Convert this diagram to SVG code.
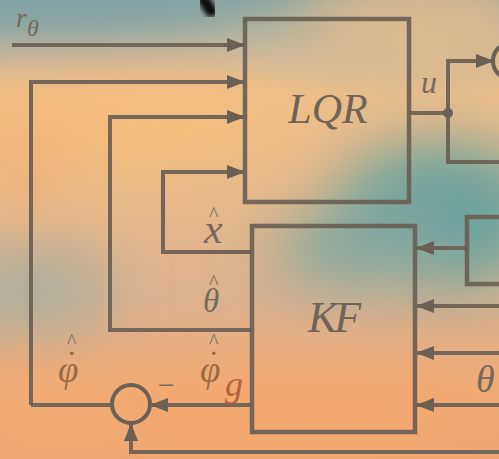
<svg xmlns="http://www.w3.org/2000/svg" width="499" height="459" viewBox="0 0 499 459">
  <defs>
    <linearGradient id="bg" x1="0" y1="0" x2="0" y2="1">
      <stop offset="0" stop-color="#8ea6a2"/>
      <stop offset="0.1" stop-color="#c3b89e"/>
      <stop offset="0.2" stop-color="#eebf88"/>
      <stop offset="0.45" stop-color="#e6b98a"/>
      <stop offset="0.65" stop-color="#dcb28f"/>
      <stop offset="0.85" stop-color="#f0aa74"/>
      <stop offset="1" stop-color="#eda672"/>
    </linearGradient>
    <filter id="blur" x="-50%" y="-50%" width="200%" height="200%">
      <feGaussianBlur stdDeviation="30"/>
    </filter>
    <filter id="blurS" x="-50%" y="-50%" width="200%" height="200%">
      <feGaussianBlur stdDeviation="2"/>
    </filter>
    <marker id="ah" markerUnits="userSpaceOnUse" markerWidth="18" markerHeight="14" refX="17" refY="7" orient="auto">
      <path d="M0,0 L18,7 L0,14 Z" fill="#6a6055"/>
    </marker>
    <style>
      .ln { fill: none; stroke: #6a6055; stroke-width: 4; stroke-opacity: 0.92; }
      .box { fill: none; stroke: #6a6055; stroke-width: 4.5; stroke-opacity: 0.92; }
      .big { font-family: "Liberation Serif", "DejaVu Serif", serif; font-style: italic; fill: #6e6458; }
      .lbl { font-family: "Liberation Serif", "DejaVu Serif", serif; font-style: italic; fill: #766a5c; }
      .phi { font-family: "Liberation Serif", "DejaVu Serif", serif; font-style: italic; fill: #9a6a44; }
      .acc { font-family: "Liberation Serif", serif; font-style: normal; }
    </style>
  </defs>

  <!-- background -->
  <rect width="499" height="459" fill="url(#bg)"/>
  <g filter="url(#blur)">
    <ellipse cx="60" cy="0" rx="180" ry="35" fill="#7fa0a6"/>
    <ellipse cx="120" cy="120" rx="160" ry="40" fill="#f6bd7a"/>
    <ellipse cx="30" cy="290" rx="80" ry="40" fill="#a8ae9f"/>
    <ellipse cx="420" cy="30" rx="120" ry="60" fill="#dcba8e"/>
    <ellipse cx="440" cy="215" rx="110" ry="75" fill="#6da39f"/>
    <ellipse cx="360" cy="250" rx="90" ry="40" fill="#86a7a0"/>
    <ellipse cx="250" cy="420" rx="220" ry="35" fill="#f4a86e"/>
    <ellipse cx="60" cy="420" rx="80" ry="40" fill="#f2ac72"/>
    <ellipse cx="30" cy="170" rx="50" ry="40" fill="#eeb27a"/>
  </g>
  <path d="M204,0 L211,11" stroke="#111" stroke-width="12" stroke-linecap="round" filter="url(#blurS)"/>

  <!-- connectors -->
  <g id="connectors">
    <path class="ln" d="M12,45 H244" marker-end="url(#ah)"/>
    <path class="ln" d="M31,405 V82 H244" marker-end="url(#ah)"/>
    <path class="ln" d="M252,330 H110 V117 H244" marker-end="url(#ah)"/>
    <path class="ln" d="M252,252 H163 V172 H244" marker-end="url(#ah)"/>
    <path class="ln" d="M31,405 H112"/>
    <path class="ln" d="M252,405 H151" marker-end="url(#ah)"/>
    <path class="ln" d="M499,452 H131 V424" marker-end="url(#ah)"/>
    <path class="ln" d="M410,113 H448"/>
    <path class="ln" d="M448,113 V61 H493" marker-end="url(#ah)"/>
    <path class="ln" d="M448,113 V162 H499"/>
    <circle cx="448" cy="113" r="5" fill="#6a6055"/>
    <path class="ln" d="M467,248 H417" marker-end="url(#ah)"/>
    <path class="ln" d="M499,306 H417" marker-end="url(#ah)"/>
    <path class="ln" d="M499,353 H417" marker-end="url(#ah)"/>
    <path class="ln" d="M499,405 H417" marker-end="url(#ah)"/>
  </g>

  <!-- nodes -->
  <g id="lqr">
    <rect class="box" x="245" y="19" width="164" height="183"/>
    <text class="big" x="328" y="123" font-size="42" text-anchor="middle">LQR</text>
  </g>
  <g id="kf">
    <rect class="box" x="252" y="226" width="163" height="206"/>
    <text class="big" x="333" y="332" font-size="44" text-anchor="middle" letter-spacing="-3">KF</text>
  </g>
  <g id="sum">
    <circle cx="131" cy="404" r="19" fill="none" stroke="#6a6055" stroke-width="4"/>
  </g>
  <g id="plant">
    <circle cx="511" cy="61" r="18" fill="none" stroke="#6a6055" stroke-width="4"/>
  </g>
  <g id="sensor">
    <rect class="box" x="467" y="217" width="40" height="67"/>
  </g>

  <!-- labels -->
  <g id="labels">
    <text class="lbl" font-size="28"><tspan x="16" y="27">r</tspan><tspan x="27" y="36" font-size="24">θ</tspan></text>
    <text class="lbl" x="421" y="93" font-size="32">u</text>
    <text class="lbl" font-size="42"><tspan x="204" y="243">x</tspan><tspan class="acc" x="209" y="221" font-size="20">^</tspan></text>
    <text class="lbl" font-size="33"><tspan x="203" y="312">θ</tspan><tspan class="acc" x="209" y="289" font-size="20">^</tspan></text>
    <text class="phi" font-size="37"><tspan x="58" y="382">φ</tspan><tspan class="acc" x="68" y="355" font-size="30">.</tspan><tspan class="acc" x="67" y="348" font-size="20" fill="#766a5c">^</tspan></text>
    <text class="phi" font-size="37"><tspan x="200" y="382">φ</tspan><tspan class="acc" x="210" y="355" font-size="30">.</tspan><tspan class="acc" x="209" y="348" font-size="20" fill="#766a5c">^</tspan><tspan x="225" y="396" font-size="36" fill="#b8603f">g</tspan></text>
    <text class="lbl" x="156" y="395" font-size="30" font-style="normal">−</text>
    <text class="lbl" x="476" y="392" font-size="38">θ</text>
  </g>
</svg>
